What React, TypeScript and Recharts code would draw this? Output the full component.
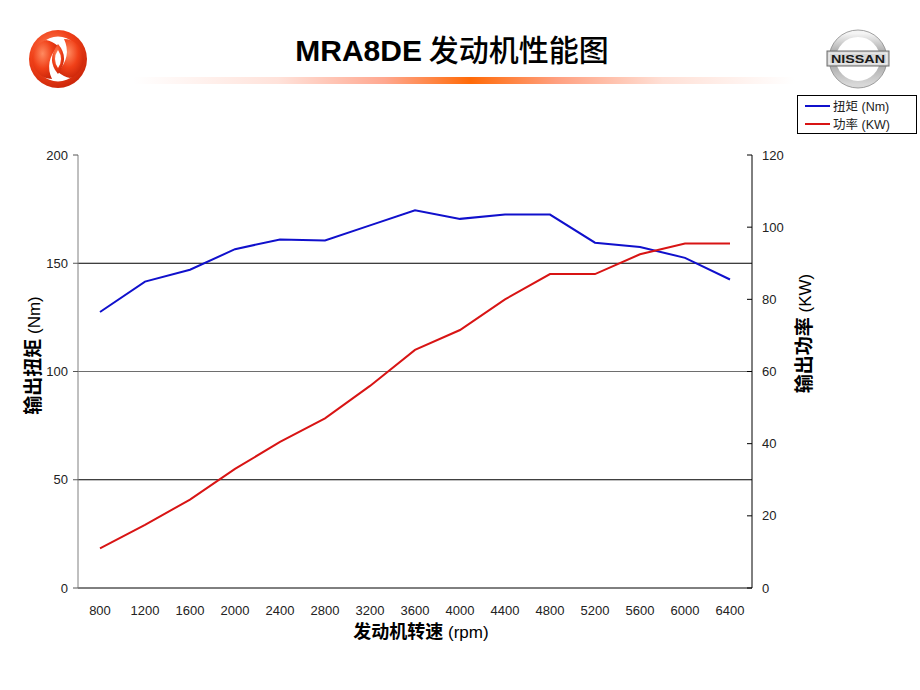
import React from "react";
import { LineChart, Line, XAxis, YAxis, ReferenceLine, Legend } from "recharts";

const rpm = [800, 1200, 1600, 2000, 2400, 2800, 3200, 3600, 4000, 4400, 4800, 5200, 5600, 6000, 6400];
const torque = [127.5, 141.5, 147, 156.5, 161, 160.5, 167.5, 174.5, 170.5, 172.5, 172.5, 159.5, 157.5, 152.5, 142.5];
const power = [11, 17.5, 24.5, 33, 40.5, 47, 56, 66, 71.5, 80, 87, 87, 92.5, 95.5, 95.5];
const torqueTicks = [0, 50, 100, 150, 200];
const powerTicks = [0, 20, 40, 60, 80, 100, 120];
const seriesNames = ["扭矩 (Nm)", "功率 (KW)"];
const gridLines = [
  { y: 50, color: "#000" },
  { y: 100, color: "#6e6e6e" },
  { y: 150, color: "#000" },
];

const rows = rpm.map((r, i) => ({ rpm: r, torque: torque[i], power: power[i] }));

const LATIN = '"Liberation Sans", Arial, "Noto Sans CJK SC", sans-serif';
const CJK = '"Noto Sans CJK SC", "Liberation Sans", sans-serif';
const TORQUE_COLOR = "#1010cc";
const POWER_COLOR = "#d81414";

function RightTick(props: any) {
  const { x, y, payload } = props;
  return (
    <g>
      <line x1={x - 15} x2={x - 10} y1={y} y2={y} stroke="#000" />
      <text x={x} y={y} dy={4.5} fontSize={13} fill="#222" fontFamily={LATIN}>
        {payload.value}
      </text>
    </g>
  );
}

function LeftLabel(props: any) {
  const { viewBox } = props;
  const cx = viewBox.x + 6;
  const cy = viewBox.y + viewBox.height / 2 - 16;
  return (
    <text transform={`translate(${cx},${cy}) rotate(-90)`} textAnchor="middle" dy={6} fill="#000">
      <tspan fontFamily={CJK} fontWeight="bold" fontSize={19}>输出扭矩</tspan>
      <tspan fontFamily={LATIN} fontSize={17}> (Nm)</tspan>
    </text>
  );
}

function RightLabel(props: any) {
  const { viewBox } = props;
  const cx = viewBox.x + 53;
  const cy = viewBox.y + viewBox.height / 2 - 38;
  return (
    <text transform={`translate(${cx},${cy}) rotate(-90)`} textAnchor="middle" dy={6} fill="#000">
      <tspan fontFamily={CJK} fontWeight="bold" fontSize={19}>输出功率</tspan>
      <tspan fontFamily={LATIN} fontSize={17}> (KW)</tspan>
    </text>
  );
}

function BottomLabel(props: any) {
  const { viewBox } = props;
  const cx = viewBox.x + viewBox.width / 2 + 6;
  const cy = viewBox.y + 44;
  return (
    <text x={cx} y={cy} textAnchor="middle" dy={6} fill="#000">
      <tspan fontFamily={CJK} fontWeight="bold" fontSize={18}>发动机转速</tspan>
      <tspan fontFamily={LATIN} fontSize={17}> (rpm)</tspan>
    </text>
  );
}

function LegendBox(props: any) {
  const items = [...(props.payload || [])].sort(
    (a: any, b: any) => seriesNames.indexOf(a.value) - seriesNames.indexOf(b.value)
  );
  return (
    <div
      style={{
        width: 120,
        height: 39,
        border: "1px solid #000",
        background: "#fff",
        boxSizing: "border-box",
        padding: "1px 0 0 7px",
      }}
    >
      {items.map((p: any) => {
        const [cn, unit] = String(p.value).split(" ");
        return (
          <div key={p.value} style={{ display: "flex", alignItems: "center", height: 18, overflow: "hidden" }}>
            <span style={{ display: "inline-block", width: 25, height: 2, background: p.color, marginRight: 3 }} />
            <span style={{ fontSize: 12.5, color: "#222", lineHeight: "14px", whiteSpace: "nowrap" }}>
              <span style={{ fontFamily: CJK }}>{cn}</span>
              <span style={{ fontFamily: LATIN }}> {unit}</span>
            </span>
          </div>
        );
      })}
    </div>
  );
}

function Decorations() {
  return (
    <svg width={920} height={100} style={{ position: "absolute", left: 0, top: 0 }}>
      <defs>
        <radialGradient id="dfRed" cx="40%" cy="35%" r="70%">
          <stop offset="0%" stopColor="#ff8a60" />
          <stop offset="55%" stopColor="#f04018" />
          <stop offset="100%" stopColor="#c82408" />
        </radialGradient>
        <linearGradient id="silver" x1="0" y1="0" x2="0" y2="1">
          <stop offset="0%" stopColor="#f4f4f4" />
          <stop offset="45%" stopColor="#9a9a9a" />
          <stop offset="100%" stopColor="#d8d8d8" />
        </linearGradient>
        <linearGradient id="titleBar" x1="0" y1="0" x2="1" y2="0">
          <stop offset="0%" stopColor="#ffffff" />
          <stop offset="22%" stopColor="#ffe2da" />
          <stop offset="38%" stopColor="#ffa890" />
          <stop offset="51%" stopColor="#ff6a08" />
          <stop offset="64%" stopColor="#ffa080" />
          <stop offset="80%" stopColor="#ffe0d6" />
          <stop offset="100%" stopColor="#ffffff" />
        </linearGradient>
      </defs>
      {/* dongfeng badge */}
      <circle cx={58} cy={59} r={29} fill="url(#dfRed)" />
      <circle cx={58} cy={59} r={22.5} fill="#fff" />
      <path d="M46 40 A20 20 0 0 0 52 79 Q44 62 58 46 Q52 41 46 40 Z" fill="url(#dfRed)" />
      <path d="M70 78 A20 20 0 0 0 64 39 Q72 56 58 72 Q64 77 70 78 Z" fill="url(#dfRed)" />
      <path d="M58 44 Q70 58 58 74 Q46 60 58 44 Z" fill="url(#dfRed)" />
      <path d="M58 50 Q64 59 58 68 Q52 59 58 50 Z" fill="#fff" />
      {/* title bar */}
      <rect x={133} y={77} width={662} height={7} fill="url(#titleBar)" />
      <text x={452} y={61} textAnchor="middle" fill="#000">
        <tspan fontFamily={LATIN} fontWeight="bold" fontSize={30}>MRA8DE</tspan>
        <tspan fontFamily={CJK} fontSize={30} fontWeight={500}> 发动机性能图</tspan>
      </text>
      {/* nissan badge */}
      <circle cx={858} cy={59} r={25.5} fill="none" stroke="url(#silver)" strokeWidth={7} />
      <circle cx={858} cy={59} r={29} fill="none" stroke="#8a8a8a" strokeWidth={0.8} />
      <rect x={827} y={51} width={62} height={15} fill="#c9c9c9" stroke="#6e6e6e" strokeWidth={1} />
      <rect x={829} y={53} width={58} height={11} fill="#d6d6d6" stroke="#fff" strokeWidth={0.8} />
      <text x={858} y={62.5} textAnchor="middle" fontFamily={LATIN} fontWeight="bold" fontSize={10.5} fill="#1a1a1a" textLength={54} lengthAdjust="spacingAndGlyphs">
        NISSAN
      </text>
    </svg>
  );
}

export default function App() {
  return (
    <div style={{ position: "absolute", left: 0, top: 0, width: 920, height: 690, background: "#fff", fontFamily: LATIN }}>
      <Decorations />
      <div style={{ position: "absolute", left: 0, top: 0 }}>
        <LineChart width={920} height={690} data={rows} margin={{ top: 155, right: 118, bottom: 72, left: 28 }}>
          {gridLines.map((g) => (
            <ReferenceLine key={g.y} yAxisId="left" y={g.y} stroke={g.color} strokeWidth={1} />
          ))}
          <XAxis
            dataKey="rpm"
            height={30}
            padding={{ left: 22, right: 22 }}
            tickLine={false}
            tickMargin={12}
            axisLine={{ stroke: "#000" }}
            tick={{ fontSize: 13, fill: "#222" }}
            interval={0}
            label={<BottomLabel />}
          />
          <YAxis
            yAxisId="left"
            width={50}
            domain={[0, 200]}
            ticks={torqueTicks}
            interval={0}
            tickSize={5}
            tickMargin={5}
            axisLine={{ stroke: "#808080" }}
            tickLine={{ stroke: "#555" }}
            tick={{ fontSize: 13, fill: "#222" }}
            label={<LeftLabel />}
          />
          <YAxis
            yAxisId="right"
            orientation="right"
            width={50}
            domain={[0, 120]}
            ticks={powerTicks}
            interval={0}
            tickSize={0}
            tickMargin={10}
            tickLine={false}
            axisLine={{ stroke: "#000" }}
            tick={<RightTick />}
            label={<RightLabel />}
          />
          <Line yAxisId="left" type="linear" dataKey="torque" name={seriesNames[0]} stroke={TORQUE_COLOR} strokeWidth={2} dot={false} isAnimationActive={false} />
          <Line yAxisId="right" type="linear" dataKey="power" name={seriesNames[1]} stroke={POWER_COLOR} strokeWidth={2} dot={false} isAnimationActive={false} />
          <Legend
            layout="vertical"
            align="center"
            verticalAlign="middle"
            content={<LegendBox />}
            wrapperStyle={{ position: "absolute", left: 797, top: 95, width: 120, height: 39 }}
          />
        </LineChart>
      </div>
    </div>
  );
}
